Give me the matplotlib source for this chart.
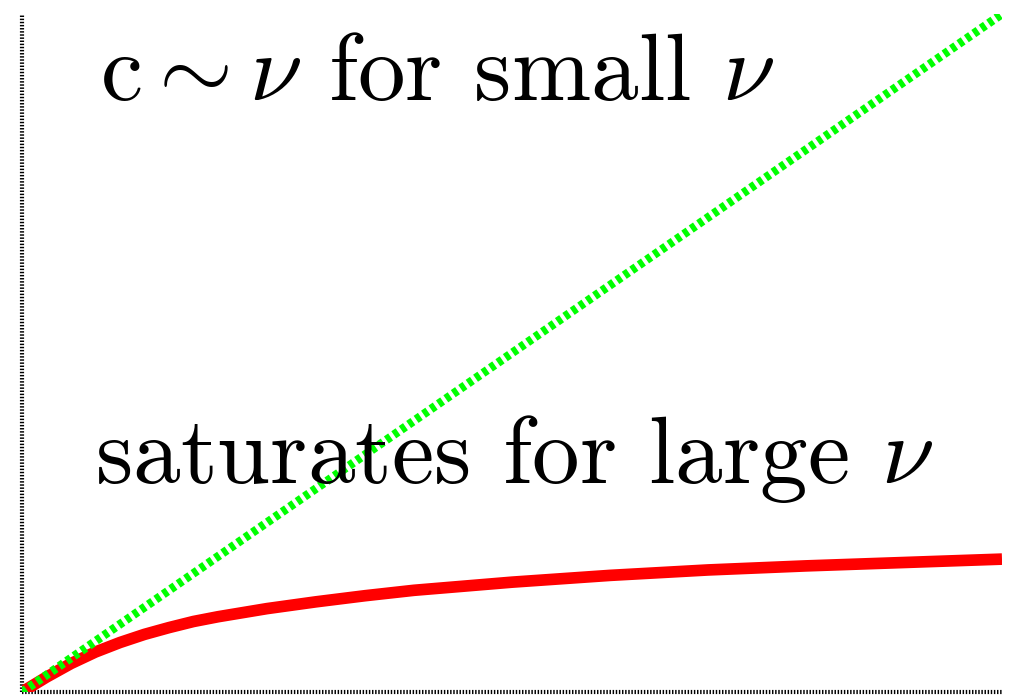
import numpy as np
import matplotlib
matplotlib.use("Agg")
import matplotlib.pyplot as plt

plt.rcParams["font.family"] = ["cmr10", "DejaVu Serif"]
plt.rcParams["mathtext.fontset"] = "cm"
plt.rcParams["axes.unicode_minus"] = False

# linear regime: c ~ nu
nu_linear = [0.0, 10.0]
c_linear = [0.0, 10.0]

# saturating response
nu_sat = [0.0, 0.25, 0.5, 0.75, 1.0, 1.25, 1.5, 1.75, 2.0, 2.5, 3.0, 3.5, 4.0,
          4.5, 5.0, 6.0, 7.0, 8.0, 9.0, 10.0]
c_sat = [0.0, 0.22, 0.42, 0.59, 0.73, 0.85, 0.95, 1.04, 1.11, 1.23, 1.33, 1.42,
         1.50, 1.56, 1.62, 1.72, 1.80, 1.86, 1.91, 1.96]

label_small = r"$\mathrm{c} \sim \nu$ for small $\nu$"
label_large = r"saturates for large $\nu$"

W, H = 1015, 697
fig = plt.figure(figsize=(W / 100, H / 100), dpi=100)
ax = fig.add_axes([22 / W, 5 / H, 980 / W, 678 / H])

ax.plot(nu_sat, c_sat, color="#ff0000", lw=8.4, solid_capstyle="butt",
        solid_joinstyle="round", zorder=2)
ax.plot(nu_linear, c_linear, color="#00ff00", lw=6.2,
        linestyle=(0, (0.6, 0.45)), dash_capstyle="butt", zorder=3)

ax.set_xlim(0, 10)
ax.set_ylim(0, 10)
ax.set_xticks([])
ax.set_yticks([])
for spine in ax.spines.values():
    spine.set_visible(False)

# dotted axis lines along the left and bottom edges
axis_style = dict(color="black", lw=3.0, linestyle=(0, (0.35, 0.4)),
                  dash_capstyle="butt", clip_on=False, zorder=1)
ax.axvline(0, **axis_style)
ax.axhline(0, **axis_style)

fig.text(100 / W, 1 - 100 / H, label_small, fontsize=68.5, va="baseline", ha="left")
fig.text(95 / W, 1 - 483 / H, label_large, fontsize=68.5, va="baseline", ha="left")

fig.savefig("out.png", dpi=100)
